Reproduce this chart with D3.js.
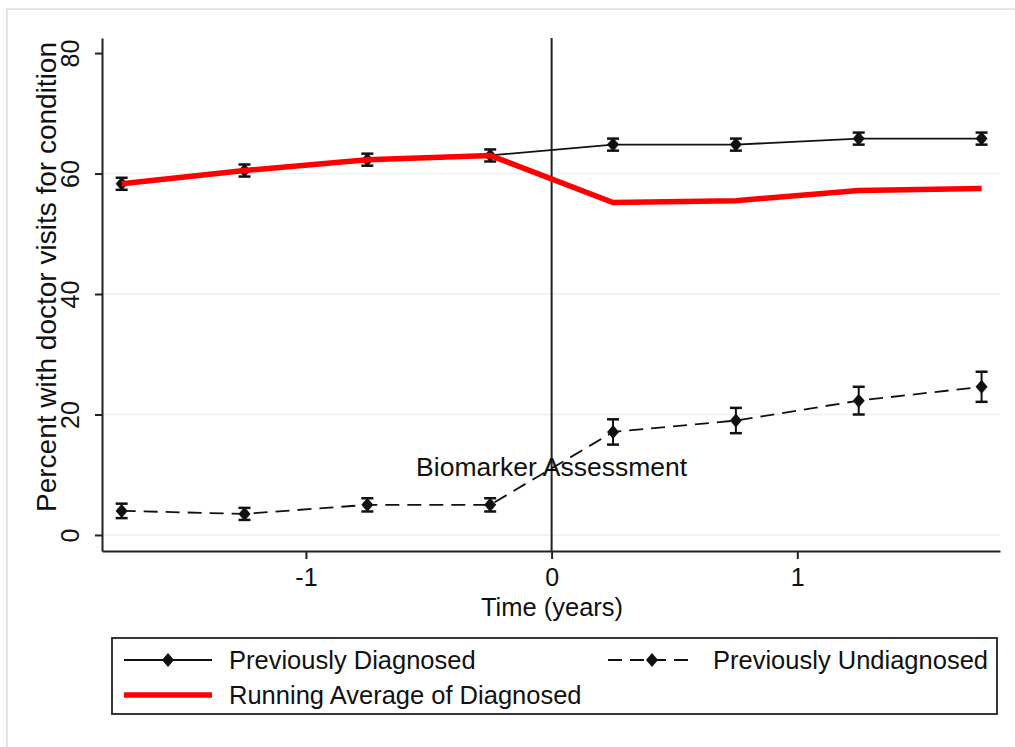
<!DOCTYPE html>
<html>
<head>
<meta charset="utf-8">
<script src="https://cdn.jsdelivr.net/npm/d3@7"></script>
<style>
  body { margin: 0; background: #fff; }
  svg text { font-family: Arial, "Liberation Sans", sans-serif; fill: #111; }
</style>
</head>
<body>
<svg id="canvas" width="1015" height="747"></svg>
<script>
// valores
const tiempos = [-1.75, -1.25, -0.75, -0.25, 0.25, 0.75, 1.25, 1.75]
const diagnosticados = [58.3, 60.5, 62.3, 63.0, 64.8, 64.8, 65.8, 65.8]
const errDiagnosticados = [1.0, 1.0, 1.0, 1.0, 1.0, 1.0, 1.0, 1.0]
const noDiagnosticados = [4.0, 3.5, 5.0, 5.0, 17.1, 19.0, 22.3, 24.6]
const errNoDiagnosticados = [1.2, 1.0, 1.1, 1.1, 2.1, 2.1, 2.3, 2.5]
const promedioMovil = [58.3, 60.5, 62.3, 63.0, 55.2, 55.5, 57.2, 57.5]
const ticksY = [0, 20, 40, 60, 80]
const gridY = [0, 20, 40, 60]
const ticksX = [-1, 0, 1]
const nombresSeries = ["Previously Diagnosed", "Previously Undiagnosed", "Running Average of Diagnosed"]

const canvas = d3.select("#canvas")

// marco claro del area del grafico
canvas.append("rect")
    .attr("x", 7).attr("y", 9)
    .attr("width", 1015).attr("height", 747)
    .attr("fill", "#fff")
    .attr("stroke", "#dde8eb")
    .attr("stroke-width", 2)

const x = d3.scaleLinear().domain([-1.83, 1.825]).range([102, 1000])
const y = d3.scaleLinear().domain([-2.66, 82.5]).range([551, 38])

// lineas de la cuadricula
canvas.append("g")
    .selectAll("line")
    .data(gridY)
    .enter().append("line")
    .attr("x1", x.range()[0]).attr("x2", x.range()[1])
    .attr("y1", d => y(d)).attr("y2", d => y(d))
    .attr("stroke", "#eaf1f3")
    .attr("stroke-width", 1.5)

// eje y
const ejeY = canvas.append("g")
    .attr("transform", "translate(" + 102 + ",0)")
    .call(d3.axisLeft(y).tickValues(ticksY).tickSize(7).tickSizeOuter(0).tickFormat(d => String(d)))
ejeY.select(".domain").attr("stroke", "#222").attr("stroke-width", 2)
ejeY.selectAll(".tick line").attr("stroke", "#222").attr("stroke-width", 2)
ejeY.selectAll(".tick text")
    .attr("transform", "rotate(-90)")
    .attr("x", 0).attr("y", -23).attr("dy", 0)
    .attr("text-anchor", "middle")
    .style("font-size", "25px")

// eje x
const ejeX = canvas.append("g")
    .attr("transform", "translate(0," + 551 + ")")
    .call(d3.axisBottom(x).tickValues(ticksX).tickSize(8).tickSizeOuter(0).tickFormat(d => String(d)))
ejeX.select(".domain").attr("stroke", "#222").attr("stroke-width", 2)
ejeX.selectAll(".tick line").attr("stroke", "#222").attr("stroke-width", 2)
ejeX.selectAll(".tick text")
    .attr("y", 35).attr("dy", 0)
    .style("font-size", "25px")

// titulos de los ejes
canvas.append("text")
    .attr("transform", "translate(" + 56 + "," + 277 + ") rotate(-90)")
    .attr("text-anchor", "middle")
    .style("font-size", "28px")
    .text("Percent with doctor visits for condition")

canvas.append("text")
    .attr("x", 552).attr("y", 616)
    .attr("text-anchor", "middle")
    .style("font-size", "25.5px")
    .text("Time (years)")

// linea vertical en t = 0
canvas.append("line")
    .attr("x1", x(0)).attr("x2", x(0))
    .attr("y1", 38).attr("y2", 551)
    .attr("stroke", "#222").attr("stroke-width", 2)

canvas.append("text")
    .attr("x", x(0)).attr("y", 476)
    .attr("text-anchor", "middle")
    .style("font-size", "26.5px")
    .text("Biomarker Assessment")

const linea = vals => d3.line()
    .x((d, i) => x(tiempos[i]))
    .y(d => y(d))(vals)

const diamante = "M0,-7L6,0L0,7L-6,0Z"
const guiones = "14,8"

function dibujaSerie(vals, errs, dash) {
    const g = canvas.append("g")
    g.append("path")
        .attr("d", linea(vals))
        .attr("fill", "none")
        .attr("stroke", "#111")
        .attr("stroke-width", 1.8)
        .attr("stroke-dasharray", dash)
    const pts = g.selectAll("g.pt")
        .data(vals)
        .enter().append("g")
        .attr("class", "pt")
        .attr("transform", (d, i) => "translate(" + x(tiempos[i]) + "," + y(d) + ")")
    pts.append("line")
        .attr("x1", 0).attr("x2", 0)
        .attr("y1", (d, i) => y(d + errs[i]) - y(d))
        .attr("y2", (d, i) => y(d - errs[i]) - y(d))
        .attr("stroke", "#111").attr("stroke-width", 2)
    pts.append("line")
        .attr("x1", -6).attr("x2", 6)
        .attr("y1", (d, i) => y(d + errs[i]) - y(d))
        .attr("y2", (d, i) => y(d + errs[i]) - y(d))
        .attr("stroke", "#111").attr("stroke-width", 2.5)
    pts.append("line")
        .attr("x1", -6).attr("x2", 6)
        .attr("y1", (d, i) => y(d - errs[i]) - y(d))
        .attr("y2", (d, i) => y(d - errs[i]) - y(d))
        .attr("stroke", "#111").attr("stroke-width", 2.5)
    pts.append("path")
        .attr("d", diamante)
        .attr("fill", "#111")
}

dibujaSerie(noDiagnosticados, errNoDiagnosticados, guiones)
dibujaSerie(diagnosticados, errDiagnosticados, null)

// promedio movil (rojo)
canvas.append("path")
    .attr("d", linea(promedioMovil))
    .attr("fill", "none")
    .attr("stroke", "#ff0000")
    .attr("stroke-width", 5.5)

// leyenda
const leyenda = canvas.append("g")
leyenda.append("rect")
    .attr("x", 112).attr("y", 638)
    .attr("width", 885).attr("height", 76)
    .attr("fill", "#fff")
    .attr("stroke", "#222")
    .attr("stroke-width", 1.8)

const items = [
    { nombre: nombresSeries[0], x0: 124, yc: 660, tipo: "solido" },
    { nombre: nombresSeries[1], x0: 608, yc: 660, tipo: "guiones" },
    { nombre: nombresSeries[2], x0: 124, yc: 695, tipo: "rojo" }
]
items.forEach(it => {
    const g = leyenda.append("g")
    g.append("line")
        .attr("x1", it.x0).attr("x2", it.x0 + 88)
        .attr("y1", it.yc).attr("y2", it.yc)
        .attr("stroke", it.tipo === "rojo" ? "#ff0000" : "#111")
        .attr("stroke-width", it.tipo === "rojo" ? 5.5 : 1.8)
        .attr("stroke-dasharray", it.tipo === "guiones" ? guiones : null)
    if (it.tipo !== "rojo") {
        g.append("path")
            .attr("d", diamante)
            .attr("transform", "translate(" + (it.x0 + 44) + "," + it.yc + ")")
            .attr("fill", "#111")
    }
    g.append("text")
        .attr("x", it.x0 + 105).attr("y", it.yc)
        .attr("dy", "0.35em")
        .style("font-size", "25.5px")
        .text(it.nombre)
})
</script>
</body>
</html>
